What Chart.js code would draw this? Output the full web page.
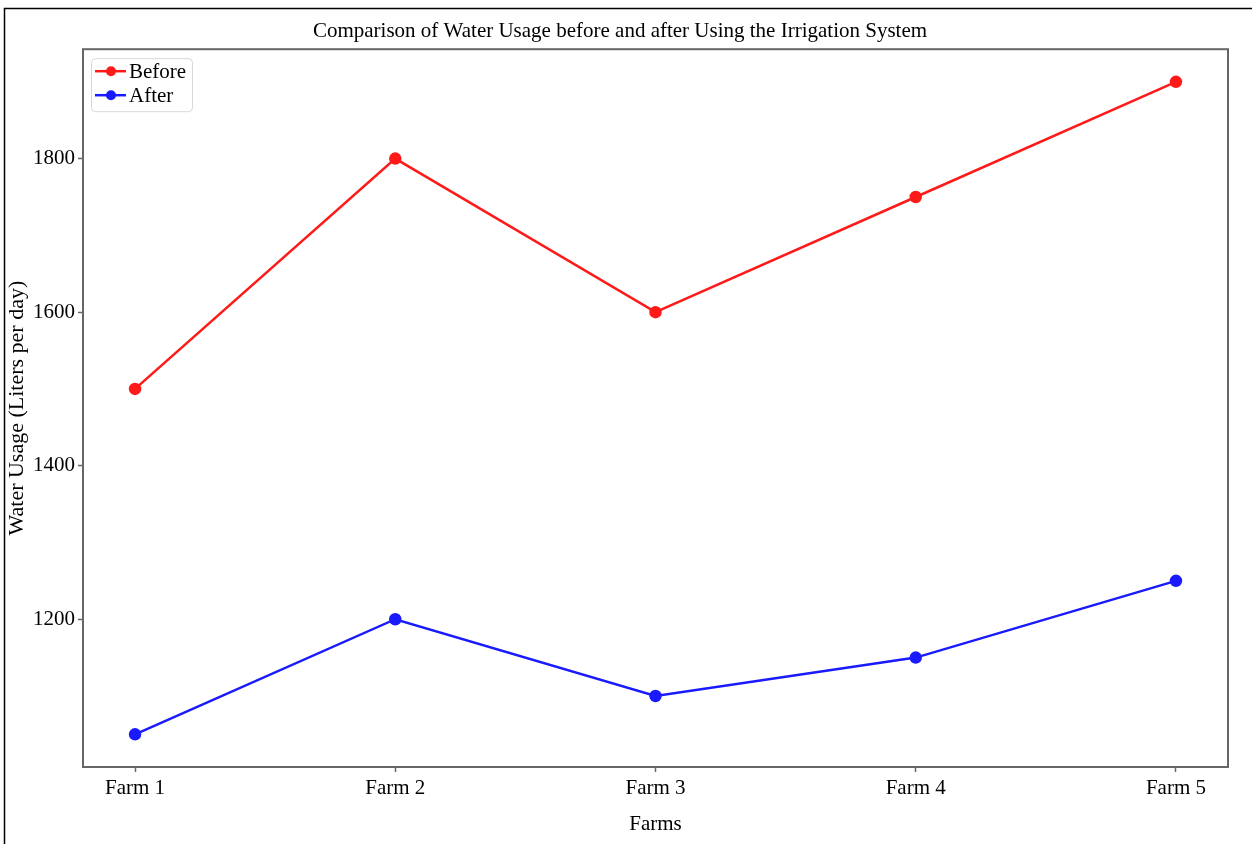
<!DOCTYPE html>
<html>
<head>
<meta charset="utf-8">
<script src="https://cdn.jsdelivr.net/npm/chart.js@4/dist/chart.umd.min.js"></script>
<style>
  html, body { margin: 0; padding: 0; background: #fff; }
  #wrap { width: 1252px; height: 844px; position: relative; }
</style>
</head>
<body>
<div id="wrap"><canvas id="water-chart"></canvas></div>
<script>
// Data
const farms = ["Farm 1", "Farm 2", "Farm 3", "Farm 4", "Farm 5"];
const beforeUsage = [1500, 1800, 1600, 1750, 1900];
const afterUsage = [1050, 1200, 1100, 1150, 1250];
const yTicks = [1200, 1400, 1600, 1800];

const serif = "'Liberation Serif', 'DejaVu Serif', serif";

// outer frame + plot border + legend inside the plot
const framePlugin = {
  id: "frame",
  beforeDraw(chart) {
    const ctx = chart.ctx;
    ctx.save();
    ctx.fillStyle = "#fff";
    ctx.fillRect(0, 0, chart.width, chart.height);
    ctx.strokeStyle = "#000";
    ctx.lineWidth = 1.5;
    ctx.strokeRect(4.5, 8.5, chart.width + 20, chart.height + 20);
    ctx.restore();
  },
  afterDatasetsDraw(chart) {
    const ctx = chart.ctx;
    const a = chart.chartArea;
    ctx.save();
    ctx.strokeStyle = "#666";
    ctx.lineWidth = 2;
    ctx.strokeRect(a.left, a.top, a.right - a.left, a.bottom - a.top);

    // legend
    const bx = a.left + 8, by = a.top + 9, bw = 101, bh = 53;
    ctx.strokeStyle = "#d8d8d8";
    ctx.lineWidth = 1;
    ctx.fillStyle = "rgba(255,255,255,0.9)";
    ctx.beginPath();
    ctx.roundRect(bx + 0.5, by + 0.5, bw, bh, 4);
    ctx.fill();
    ctx.stroke();
    chart.data.datasets.forEach((ds, i) => {
      const y = by + 13 + i * 24;
      ctx.strokeStyle = ds.borderColor;
      ctx.lineWidth = 2.5;
      ctx.beginPath();
      ctx.moveTo(bx + 4, y);
      ctx.lineTo(bx + 35, y);
      ctx.stroke();
      ctx.fillStyle = ds.borderColor;
      ctx.beginPath();
      ctx.arc(bx + 20, y, 5, 0, Math.PI * 2);
      ctx.fill();
      ctx.fillStyle = "#000";
      ctx.font = "21px " + serif;
      ctx.textBaseline = "middle";
      ctx.textAlign = "left";
      ctx.fillText(ds.label, bx + 38, y + 1);
    });
    ctx.restore();
  }
};

const ctx = document.getElementById("water-chart");
new Chart(ctx, {
  type: "line",
  data: {
    datasets: [
      {
        label: "Before",
        data: beforeUsage.map((v, i) => ({ x: i, y: v })),
        borderColor: "#ff1a1a",
        backgroundColor: "#ff1a1a",
        borderWidth: 2.5,
        pointRadius: 5,
        pointHoverRadius: 5,
        tension: 0,
      },
      {
        label: "After",
        data: afterUsage.map((v, i) => ({ x: i, y: v })),
        borderColor: "#1a1aff",
        backgroundColor: "#1a1aff",
        borderWidth: 2.5,
        pointRadius: 5,
        pointHoverRadius: 5,
        tension: 0,
      },
    ],
  },
  options: {
    responsive: true,
    maintainAspectRatio: false,
    animation: false,
    layout: { padding: { left: 12, top: 0, right: 24, bottom: 0 } },
    plugins: {
      legend: { display: false },
      tooltip: { enabled: false },
      title: {
        display: true,
        text: "Comparison of Water Usage before and after Using the Irrigation System",
        color: "#000",
        font: { family: serif, size: 21, weight: "normal" },
        padding: { top: 19, bottom: 5 },
      },
    },
    scales: {
      x: {
        type: "linear",
        min: -0.2,
        max: 4.2,
        afterBuildTicks(scale) {
          scale.ticks = farms.map((f, i) => ({ value: i }));
        },
        afterFit(scale) { scale.height = 77; },
        ticks: {
          color: "#000",
          font: { family: serif, size: 21 },
          padding: 4,
          maxRotation: 0,
          callback: (v) => farms[v],
        },
        grid: { drawOnChartArea: false, color: "#666", tickLength: 5, tickWidth: 1.5 },
        border: { display: false },
        title: {
          display: true,
          text: "Farms",
          color: "#000",
          font: { family: serif, size: 21 },
          padding: { top: 0, bottom: 7 },
        },
      },
      y: {
        min: 1007.5,
        max: 1942.5,
        afterBuildTicks(scale) {
          scale.ticks = yTicks.map((v) => ({ value: v }));
        },
        afterFit(scale) { scale.width = 71; },
        ticks: {
          color: "#000",
          font: { family: serif, size: 21 },
          padding: 3,
          callback: (v) => String(v),
        },
        grid: { drawOnChartArea: false, color: "#666", tickLength: 5, tickWidth: 1.5 },
        border: { display: false },
        title: {
          display: true,
          text: "Water Usage (Liters per day)",
          color: "#000",
          font: { family: serif, size: 22 },
          padding: { top: -8, bottom: 0 },
        },
      },
    },
  },
  plugins: [framePlugin],
});
</script>
</body>
</html>
